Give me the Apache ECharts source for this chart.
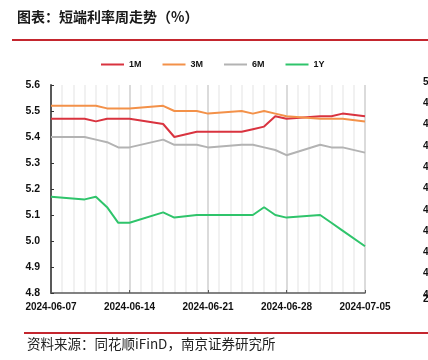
<!DOCTYPE html>
<html>
<head>
<meta charset="utf-8">
<script src="https://cdn.jsdelivr.net/npm/echarts@6/dist/echarts.min.js"></script>
<style>
html,body{margin:0;padding:0;background:#fff;}
#c{width:428px;height:360px;}
</style>
</head>
<body>
<div id="c"></div>
<script>
var categories = ['2024-06-07','2024-06-08','2024-06-09','2024-06-10','2024-06-11','2024-06-12','2024-06-13','2024-06-14','2024-06-15','2024-06-16','2024-06-17','2024-06-18','2024-06-19','2024-06-20','2024-06-21','2024-06-22','2024-06-23','2024-06-24','2024-06-25','2024-06-26','2024-06-27','2024-06-28','2024-06-29','2024-06-30','2024-07-01','2024-07-02','2024-07-03','2024-07-04','2024-07-05'];
var seriesNames = ['1M','3M','6M','1Y'];
var m1 = [5.47,null,null,5.47,5.46,5.47,5.47,5.47,null,null,5.45,5.40,null,5.42,5.42,null,null,5.42,5.43,5.44,5.48,5.47,null,null,5.48,5.48,5.49,null,5.48];
var m3 = [5.52,null,null,5.52,5.52,5.51,5.51,5.51,null,null,5.52,5.50,null,5.50,5.49,null,null,5.50,5.49,5.50,5.49,5.48,null,null,5.47,5.47,5.47,null,5.46];
var m6 = [5.40,null,null,5.40,5.39,5.38,5.36,5.36,null,null,5.39,5.37,null,5.37,5.36,null,null,5.37,5.37,5.36,5.35,5.33,null,null,5.37,5.36,5.36,null,5.34];
var y1 = [5.17,null,null,5.16,5.17,5.13,5.07,5.07,null,null,5.11,5.09,null,5.10,5.10,null,null,5.10,5.10,5.13,5.10,5.09,null,null,5.10,5.07,5.04,null,4.98];
var yMin = 4.8, yMax = 5.6, yStep = 0.1;
var titleText = '图表：短端利率周走势（%）';
var sourceText = '资料来源：同花顺iFinD，南京证券研究所';
var edgeLabels = ['5.0','4.9','4.8','4.7','4.6','4.5','4.4','4.3','4.2','4.1','4.0'];

var colors = ['#d9333f','#f39149','#b3b3b3','#2fc46b'];
var chart = echarts.init(document.getElementById('c'), null, {renderer:'canvas'});
var splitColors = ['#cfcfcf','#ececec','#ececec','#ececec','#ececec','#ececec','#ececec'];
var dataArr = [m1,m3,m6,y1];

var graphics = [
  {type:'text', left:17, top:10, style:{text:titleText, font:'bold 14px "Noto Sans CJK SC"', fill:'#1a1a1a'}},
  {type:'rect', shape:{x:12,y:39,width:416,height:2}, style:{fill:'#c4262e'}},
  {type:'rect', shape:{x:24,y:332,width:404,height:2}, style:{fill:'#c4262e'}},
  {type:'text', left:27, top:337, style:{text:sourceText, font:'13.5px "Noto Sans CJK SC"', fill:'#222'}}
];
edgeLabels.forEach(function(t,i){
  graphics.push({type:'text', x:423, y:77 + i*21.3, style:{text:t, font:'bold 10px "Liberation Sans"', fill:'#111'}});
});
graphics.push({type:'text', x:423, y:294, style:{text:'2024-07-05', font:'bold 10px "Liberation Sans"', fill:'#111'}});

chart.setOption({
  animation:false,
  backgroundColor:'#fff',
  color:colors,
  legend:{
    top:55, left:96,
    itemWidth:23, itemHeight:2, itemGap:21,
    icon:'rect',
    textStyle:{fontSize:9, fontWeight:'bold', color:'#111', fontFamily:'Liberation Sans'},
    data:seriesNames
  },
  grid:{left:51, right:63, top:85, bottom:67},
  xAxis:{
    type:'category', data:categories, boundaryGap:false,
    axisLine:{lineStyle:{color:'#595959', width:1.5}},
    axisTick:{show:true, inside:true, length:3, interval:6, lineStyle:{color:'#595959'}},
    axisLabel:{interval:6, margin:9, fontSize:10, fontWeight:'bold', color:'#111', fontFamily:'Liberation Sans'},
    splitLine:{show:true, interval:0, lineStyle:{color:splitColors, width:1.5}}
  },
  yAxis:{
    type:'value', min:yMin, max:yMax, interval:yStep,
    axisLine:{show:true, lineStyle:{color:'#595959', width:2}},
    axisTick:{show:true, inside:true, length:3, lineStyle:{color:'#333'}},
    axisLabel:{margin:11, fontSize:10.5, fontWeight:'bold', color:'#111', fontFamily:'Liberation Sans', formatter:function(v){return v.toFixed(1);}},
    splitLine:{show:false}
  },
  series: seriesNames.map(function(n,i){
    return {name:n, type:'line', data:dataArr[i], connectNulls:true, showSymbol:false, symbol:'none',
      lineStyle:{width:2, color:colors[i]}};
  }),
  graphic:graphics
});
</script>
</body>
</html>
